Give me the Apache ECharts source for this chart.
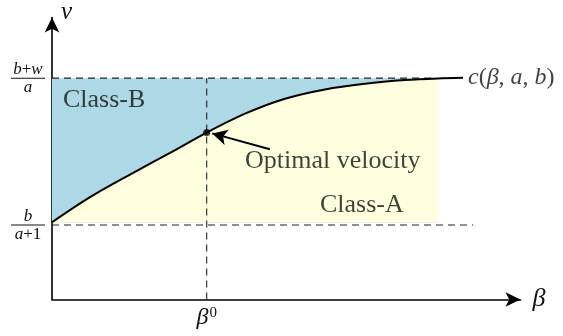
<!DOCTYPE html>
<html><head><meta charset="utf-8">
<script src="https://cdn.jsdelivr.net/npm/echarts@6/dist/echarts.min.js"></script>
<style>html,body{margin:0;padding:0;background:#fff}#c{width:563px;height:336px}</style>
</head><body><div id="c"></div>
<script>
// ---- data (abstract units) ----
const curveBeta = [0, 8.11, 16.65, 25.19, 33.02, 41.20, 49.73, 58.27, 66.81, 75.35, 82.39, 87.73];
const curveV    = [27.4, 36.3, 44.3, 52.0, 59.2, 65.9, 71.2, 74.5, 76.5, 77.8, 78.4, 78.6];
const vUpper = 78.5;      // (b+w)/a
const vLower = 26.4;      // b/(a+1)
const fillBase = 27.3;
const fillEndBeta = 82.39;
const upperDashEnd = 81;
const lowerDashEnd = 89.9;
const beta0 = 33.02;
const v0 = 59.2;
const arrowFrom = [46.5, 53.3];
const arrowTo = [34.2, 58.9];
const yTickValues = [vLower, vUpper];
const yTickLabels = ['{i|b}\n{bar|}\n{i|a}{r|+1}', '{i|b}{r|+}{i|w}\n{bar|}\n{i|a}'];
const xTickValues = [beta0];
const xTickLabels = ['{b|β}{s|0}'];
const noteTexts = ['Class-B', 'Optimal velocity', 'Class-A'];
const noteBeta  = [2.35, 41.2, 57.2];
const noteV     = [70.7, 48.9, 33.5];
const curveName = '{i|c}{r|(}{i|β}{r|, }{i|a}{r|, }{i|b}{r|)}';

const SERIF = '"Liberation Serif", "DejaVu Serif", serif';
const INK = '#111';
const curvePts = curveBeta.map((b, i) => [b, curveV[i]]);
const fillPts = curvePts.filter(p => p[0] <= fillEndBeta + 1e-9);
const dash = { color: '#222', width: 1.1, type: [7, 5] };

const chart = echarts.init(document.getElementById('c'), null, { renderer: 'canvas' });
chart.setOption({
  animation: false,
  backgroundColor: '#fff',
  grid: { left: 52, right: 42.5, top: 17.5, bottom: 36.5, containLabel: false },
  xAxis: {
    type: 'value', min: 0, max: 100,
    name: 'β', nameLocation: 'end', nameGap: 12,
    nameTextStyle: { fontFamily: SERIF, fontStyle: 'italic', fontSize: 26, color: INK, verticalAlign: 'middle', padding: [0, 0, 38, 0] },
    axisLine: { lineStyle: { color: '#000', width: 1.6 }, symbol: ['none', 'arrow'], symbolSize: [11, 15] },
    axisTick: { show: false },
    splitLine: { show: false },
    axisLabel: {
      customValues: xTickValues, margin: 6,
      formatter: v => xTickLabels[xTickValues.indexOf(v)] || '',
      rich: {
        b: { fontFamily: SERIF, fontStyle: 'italic', fontSize: 24, color: INK, verticalAlign: 'bottom' },
        s: { fontFamily: SERIF, fontSize: 15, color: INK, verticalAlign: 'bottom', padding: [0, 0, 9, 1] }
      }
    }
  },
  yAxis: {
    type: 'value', min: 0, max: 100,
    name: 'v', nameLocation: 'end', nameGap: 5,
    nameTextStyle: { fontFamily: SERIF, fontStyle: 'italic', fontSize: 25, color: INK, align: 'left', verticalAlign: 'middle', padding: [0, 0, 0, 9] },
    axisLine: { lineStyle: { color: '#000', width: 1.6 }, symbol: ['none', 'arrow'], symbolSize: [11, 15] },
    axisTick: { show: false },
    splitLine: { show: false },
    axisLabel: {
      customValues: yTickValues, margin: 24, align: 'center', verticalAlign: 'middle',
      formatter: v => yTickLabels[yTickValues.indexOf(v)] || '',
      rich: {
        i: { fontFamily: SERIF, fontStyle: 'italic', fontSize: 17, color: INK, lineHeight: 15, align: 'center' },
        r: { fontFamily: SERIF, fontSize: 17, color: INK, lineHeight: 15, align: 'center' },
        bar: { width: 34, height: 1, lineHeight: 3, backgroundColor: INK, align: 'center' }
      }
    }
  },
  series: [
    { // Class-B region (upper band), drawn first
      type: 'line', data: [[0, vUpper], [fillEndBeta, vUpper]], symbol: 'none',
      lineStyle: { width: 0 }, areaStyle: { color: '#ADD8E6', opacity: 1, origin: fillBase }, z: 1, silent: true
    },
    { // Class-A region (below curve)
      type: 'line', data: fillPts, symbol: 'none', smooth: 0.3,
      lineStyle: { width: 0 }, areaStyle: { color: '#FFFFE0', opacity: 1, origin: fillBase }, z: 2, silent: true
    },
    { // dashed guides
      type: 'line', data: [[0, vUpper], [upperDashEnd, vUpper]], symbol: 'none', lineStyle: dash, z: 3
    },
    {
      type: 'line', data: [[0, vLower], [lowerDashEnd, vLower]], symbol: 'none', lineStyle: dash, z: 3
    },
    {
      type: 'line', data: [[beta0, 0], [beta0, vUpper]], symbol: 'none', lineStyle: dash, z: 3
    },
    { // the curve c(beta,a,b)
      type: 'line', data: curvePts, symbol: 'none', smooth: 0.3,
      lineStyle: { color: '#000', width: 2 }, z: 5,
      markLine: {
        silent: true, symbol: ['none', 'arrow'], symbolSize: [12, 15],
        lineStyle: { color: '#000', width: 2, type: 'solid' }, label: { show: false },
        data: [[{ coord: arrowFrom }, { coord: arrowTo }]]
      }
    },
    { // optimal point
      type: 'scatter', data: [[beta0, v0]], symbol: 'circle', symbolSize: 7,
      itemStyle: { color: '#000' }, z: 6
    },
    { // curve name label
      type: 'scatter', data: [curvePts[curvePts.length - 1]], symbolSize: 0, z: 6,
      label: { show: true, position: 'right', distance: 5, formatter: curveName,
        rich: {
          i: { fontFamily: SERIF, fontStyle: 'italic', fontSize: 24, color: INK },
          r: { fontFamily: SERIF, fontSize: 24, color: INK }
        } }
    },
    { // region / annotation texts
      type: 'scatter', symbolSize: 0, z: 6,
      data: noteTexts.map((t, i) => ({ value: [noteBeta[i], noteV[i]], name: t })),
      label: { show: true, position: 'right', distance: 0, formatter: p => p.name,
        fontFamily: SERIF, fontSize: 26, color: INK }
    }
  ]
});
</script></body></html>
